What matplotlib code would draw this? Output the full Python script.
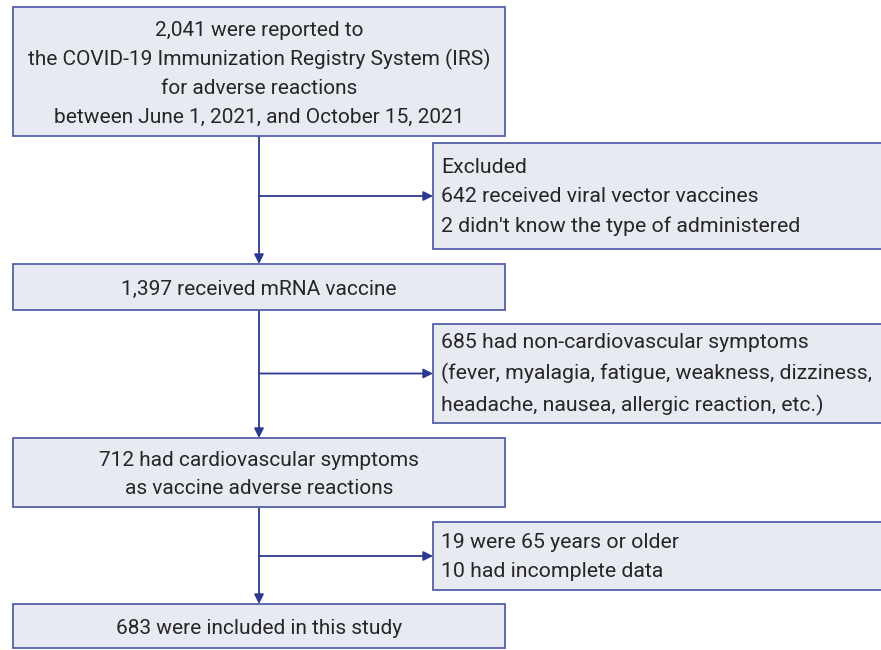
import matplotlib.pyplot as plt
from matplotlib.patches import Rectangle

# flow chart texts
main_steps = [
    "2,041 were reported to\nthe COVID-19 Immunization Registry System (IRS)\nfor adverse reactions\nbetween June 1, 2021, and October 15, 2021",
    "1,397 received mRNA vaccine",
    "712 had cardiovascular symptoms\nas vaccine adverse reactions",
    "683 were included in this study",
]
excluded_steps = [
    "Excluded\n642 received viral vector vaccines\n2 didn't know the type of administered",
    "685 had non-cardiovascular symptoms\n(fever, myalagia, fatigue, weakness, dizziness,\nheadache, nausea, allergic reaction, etc.)",
    "19 were 65 years or older\n10 had incomplete data",
]

# layout in pixels (top, bottom)
main_y = [(7, 136), (264, 310), (438, 507), (604, 648)]
excl_y = [(143, 249), (324, 423), (522, 590)]
main_x = (13, 505)
excl_x = (433, 890)
stem_x = 259

fill = '#e8eaf2'
edge = '#5560a8'
line = '#2b3990'

plt.rcParams['font.family'] = ['Roboto', 'DejaVu Sans']
fig = plt.figure(figsize=(8.81, 6.5), dpi=100)
ax = fig.add_axes([0, 0, 1, 1])
ax.set_xlim(0, 881)
ax.set_ylim(650, 0)
ax.axis('off')

def box(x0, x1, y0, y1):
    ax.add_patch(Rectangle((x0, y0), x1 - x0, y1 - y0, facecolor=fill,
                           edgecolor=edge, linewidth=1.3, zorder=2))

for txt, (y0, y1) in zip(main_steps, main_y):
    box(main_x[0], main_x[1], y0, y1)
    ax.text((main_x[0] + main_x[1]) / 2, (y0 + y1) / 2 + 2, txt, ha='center',
            va='center', fontsize=15, color='#262626', linespacing=1.6, zorder=3)

for txt, (y0, y1) in zip(excluded_steps, excl_y):
    box(excl_x[0], excl_x[1], y0, y1)
    ax.text(excl_x[0] + 8, (y0 + y1) / 2 + 1, txt, ha='left',
            va='center', fontsize=15.3, color='#262626', linespacing=1.66, zorder=3)

arrow = dict(arrowstyle='-|>', color=line, lw=1.3, mutation_scale=14,
             shrinkA=0, shrinkB=0)
for i in range(3):
    top = main_y[i][1]
    bot = main_y[i + 1][0]
    ax.annotate('', xy=(stem_x, bot), xytext=(stem_x, top), arrowprops=arrow, zorder=1)
    ya = (excl_y[i][0] + excl_y[i][1]) / 2
    ax.annotate('', xy=(excl_x[0], ya), xytext=(stem_x, ya), arrowprops=arrow, zorder=1)

plt.savefig('out.png', dpi=100)
plt.close()
